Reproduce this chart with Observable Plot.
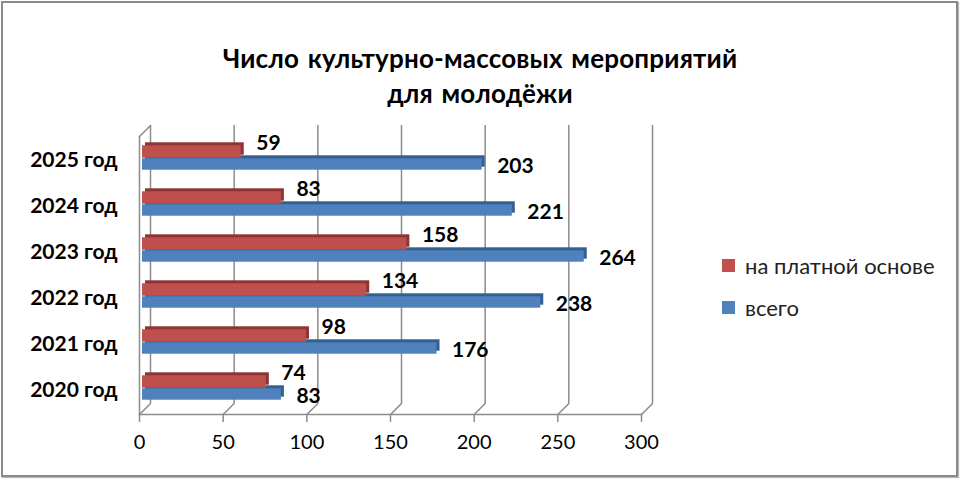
<!DOCTYPE html>
<html>
<head>
<meta charset="utf-8">
<script src="https://cdn.jsdelivr.net/npm/d3@7"></script>
<script src="https://cdn.jsdelivr.net/npm/@observablehq/plot@0.6"></script>
<style>
  body { margin: 0; background: #fff; }
  #wrap { position: relative; width: 960px; height: 480px; overflow: hidden; font-family: Lato, "Noto Sans", sans-serif; }
  #wrap svg { position: absolute; left: 0; top: 0; }
  #border { position: absolute; left: 1px; top: 1px; width: 953px; height: 472px; border: 2px solid #8a8a8a; box-shadow: 1px 1px 1px #bbb; pointer-events: none; }
  #title { position: absolute; left: 0; width: 960px; top: 41px; text-align: center; font-weight: bold; font-size: 26px; line-height: 35px; color: #000; letter-spacing: 0.2px; word-spacing: 2px; }
  #legend { position: absolute; left: 722px; top: 244px; font-size: 22px; color: #222; }
  .li { display: flex; align-items: center; height: 42px; }
  .sw { width: 13px; height: 13px; margin-right: 10px; }
</style>
</head>
<body>
<div id="wrap">
  <div id="title">Число культурно-массовых мероприятий<br>для молодёжи</div>
  <div id="legend"></div>
  <div id="border"></div>
</div>
<script>
const years = ["2020 год", "2021 год", "2022 год", "2023 год", "2024 год", "2025 год"];
const paid = [74, 98, 134, 158, 83, 59];
const total = [83, 176, 238, 264, 221, 203];
const xTicks = [0, 50, 100, 150, 200, 250, 300];
const seriesNames = ["на платной основе", "всего"];
const seriesColors = ["#C0504D", "#4F81BD"];
const seriesShadows = ["#8E3532", "#34608F"];

const paidData = years.map((y, i) => ({year: y, value: paid[i]}));
const totalData = years.map((y, i) => ({year: y, value: total[i]}));

const grid = "#8c8c8c";

const chart = Plot.plot({
  width: 960,
  height: 480,
  marginLeft: 139,
  marginRight: 319,
  marginTop: 125,
  marginBottom: 66,
  style: {fontFamily: "Lato, 'Noto Sans', sans-serif", background: "transparent"},
  x: {domain: [0, 300], ticks: xTicks},
  y: {type: "band", domain: years.slice().reverse(), range: [131.7, 411.3], padding: 0},
  marks: [
    Plot.ruleX(xTicks, {dx: 11, insetBottom: 11, stroke: grid, strokeWidth: 1.5}),
    Plot.vector(xTicks, {x: d => d, frameAnchor: "bottom", length: 15.6, rotate: 45, anchor: "start", shape: "spike", r: 0, stroke: grid, strokeWidth: 1.5}),
    Plot.ruleX([0], {insetTop: 11, stroke: grid, strokeWidth: 1.5}),
    Plot.vector([0], {x: d => d, frameAnchor: "top", dy: 11, length: 15.6, rotate: 45, anchor: "start", shape: "spike", r: 0, stroke: grid, strokeWidth: 1.5}),
    Plot.frame({anchor: "bottom", stroke: grid, strokeWidth: 1.5}),
    Plot.barX(totalData, {y: "year", x: "value", fill: seriesShadows[1], insetTop: 24.3, insetBottom: 10.3, dx: 6, dy: -3}),
    Plot.barX(totalData, {y: "year", x: "value", fill: seriesColors[1], insetTop: 24.3, insetBottom: 10.3, dx: 3}),
    Plot.barX(paidData, {y: "year", x: "value", fill: seriesShadows[0], insetTop: 11.3, insetBottom: 22.3, dx: 6, dy: -3}),
    Plot.barX(paidData, {y: "year", x: "value", fill: seriesColors[0], insetTop: 11.3, insetBottom: 22.3, dx: 3}),
    Plot.text(paidData, {y: "year", x: "value", text: d => String(d.value), textAnchor: "start", dx: 18, dy: -14, fontSize: 21, fontWeight: "bold", fill: "#000"}),
    Plot.text(totalData, {y: "year", x: "value", text: d => String(d.value), textAnchor: "start", dx: 18, dy: 8.5, fontSize: 21, fontWeight: "bold", fill: "#000"}),
    Plot.axisX({ticks: xTicks, tickSize: 8, tickPadding: 12, stroke: grid, strokeWidth: 1.5, fontSize: 20, fill: "#000", label: null}),
    Plot.axisY({tickSize: 0, tickPadding: 22, fontSize: 21, fontWeight: "bold", fill: "#000", label: null, dy: 3})
  ]
});
const wrap = document.getElementById("wrap");
wrap.insertBefore(chart, wrap.firstChild);

const legend = document.getElementById("legend");
seriesNames.forEach((n, i) => {
  const row = document.createElement("div");
  row.className = "li";
  const sw = document.createElement("div");
  sw.className = "sw";
  sw.style.background = seriesColors[i];
  const t = document.createElement("span");
  t.textContent = n;
  row.appendChild(sw);
  row.appendChild(t);
  legend.appendChild(row);
});
</script>
</body>
</html>
